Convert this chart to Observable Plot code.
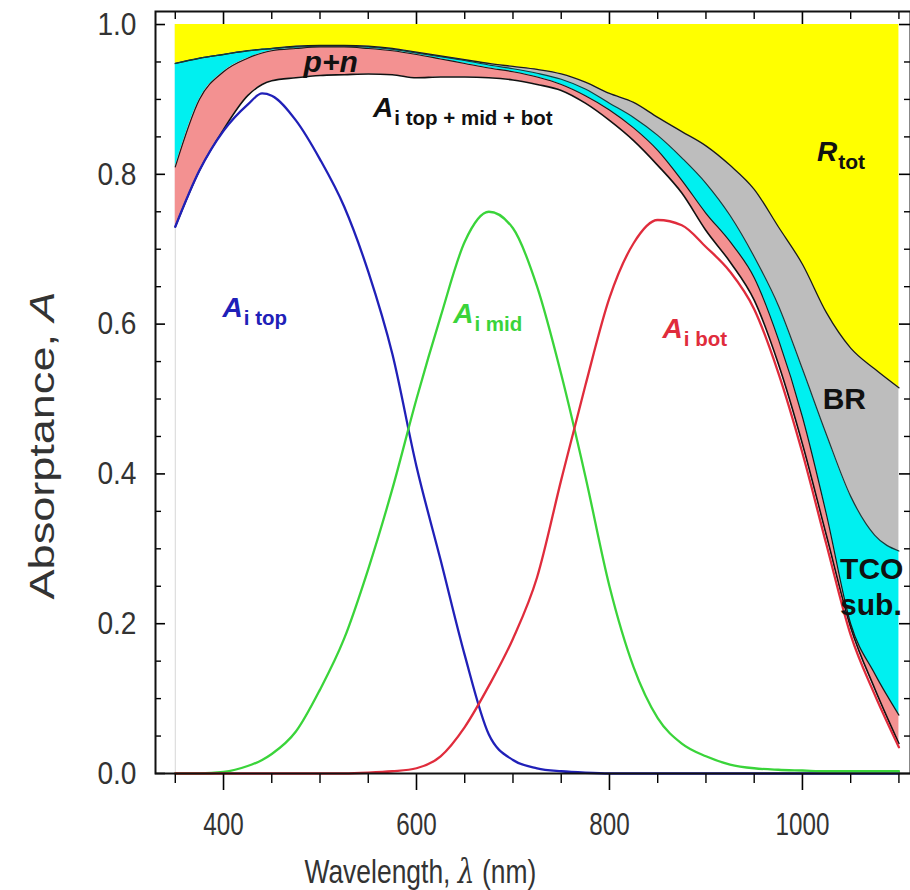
<!DOCTYPE html>
<html><head><meta charset="utf-8">
<script src="https://cdn.jsdelivr.net/npm/d3@7"></script>
<script src="https://cdn.jsdelivr.net/npm/@observablehq/plot@0.6"></script>
<style>
html,body{margin:0;padding:0;background:#fff;}
#chart svg{display:block;}
</style>
</head><body><div id="chart"></div>
<script>
// ---- data ----
const wavelength = [350,375,400,425,440,450,475,500,525,550,575,600,625,650,675,700,725,750,775,800,825,850,875,900,925,950,975,1000,1025,1050,1075,1100];
const aTop   = [0.73,0.805,0.858,0.893,0.908,0.905,0.872,0.82,0.757,0.67,0.56,0.41,0.285,0.158,0.052,0.018,0.007,0.003,0.001,0,0,0,0,0,0,0,0,0,0,0,0,0];
const aMid   = [0,0,0.002,0.01,0.018,0.026,0.056,0.112,0.18,0.273,0.38,0.5,0.61,0.71,0.75,0.728,0.65,0.533,0.397,0.25,0.142,0.074,0.04,0.023,0.012,0.007,0.005,0.004,0.003,0.003,0.003,0.003];
const aBot   = [0,0,0,0,0,0,0,0,0,0.001,0.003,0.007,0.023,0.062,0.117,0.18,0.262,0.392,0.518,0.635,0.708,0.739,0.732,0.703,0.67,0.62,0.535,0.428,0.305,0.185,0.105,0.035];
const aTotal = [0.73,0.805,0.86,0.905,0.92,0.925,0.929,0.932,0.933,0.934,0.933,0.929,0.93,0.93,0.929,0.926,0.92,0.912,0.895,0.872,0.845,0.812,0.775,0.725,0.683,0.632,0.547,0.44,0.317,0.195,0.113,0.04];
const pnTop  = [0.81,0.9,0.937,0.955,0.962,0.965,0.968,0.97,0.97,0.968,0.965,0.96,0.954,0.948,0.942,0.937,0.93,0.92,0.905,0.886,0.862,0.832,0.792,0.748,0.71,0.662,0.58,0.476,0.345,0.2,0.133,0.078];
const tcoTop = [0.948,0.955,0.96,0.965,0.967,0.968,0.97,0.971,0.971,0.97,0.967,0.962,0.957,0.952,0.946,0.941,0.935,0.927,0.914,0.895,0.876,0.852,0.822,0.788,0.745,0.69,0.625,0.54,0.452,0.37,0.318,0.297];
const brTop  = [0.948,0.955,0.96,0.965,0.967,0.968,0.971,0.972,0.972,0.971,0.968,0.963,0.958,0.953,0.948,0.944,0.94,0.934,0.923,0.908,0.896,0.876,0.857,0.838,0.812,0.78,0.73,0.68,0.615,0.568,0.54,0.515];

const xMajorTicks = [400,600,800,1000];
const xMinorTicks = [350,450,500,550,650,700,750,850,900,950,1050,1100];
const yMajorTicks = [0,0.2,0.4,0.6,0.8,1.0];
const yMinorTicks = [0.05,0.1,0.15,0.25,0.3,0.35,0.45,0.5,0.55,0.65,0.7,0.75,0.85,0.9,0.95];

// annotation labels: main text, subscript, anchor (wavelength, absorptance)
const labelMain = ["A","A","A","A","R","p+n","BR","TCO","sub."];
const labelSub  = ["i top","i mid","i bot","i top + mid + bot","tot","","","",""];
const labelAtW  = [399,638,855,555,1015,483,1021,1039,1039];
const labelAtA  = [0.609,0.602,0.581,0.876,0.818,0.936,0.487,0.26,0.211];
const labelColor= ["#2020b8","#3ad43a","#e02c3c","#111","#111","#111","#111","#111","#111"];

const xLabel = "Wavelength, λ (nm)";
const yLabel = "Absorptance, A";

// ---- build tables ----
const rows = wavelength.map((w,i)=>({w, top:aTop[i], mid:aMid[i], bot:aBot[i], total:aTotal[i], pn:pnTop[i], tco:tcoTop[i], br:brTop[i], one:1}));
const labels = labelMain.map((m,i)=>({main:m, sub:labelSub[i], w:labelAtW[i], a:labelAtA[i], color:labelColor[i]}));

const curve = "monotone-x";
const font = "'Liberation Sans', Arial, sans-serif";

const plot = Plot.plot({
  width: 910, height: 890,
  marginLeft: 155, marginRight: 0, marginTop: 11, marginBottom: 117,
  x: {domain: [329.5, 1112]},
  y: {domain: [0, 1.0174]},
  color: {type: "identity"},
  style: {fontFamily: font, background: "#fff", overflow: "visible"},
  marks: [
    Plot.ruleX([350], {y1: 0, y2: 1, stroke: "#d6d6d6", strokeWidth: 1}),
    Plot.areaY(rows, {x: "w", y1: "br", y2: "one", fill: "#ffff00", curve}),
    Plot.areaY(rows, {x: "w", y1: "tco", y2: "br", fill: "#bdbdbd", curve}),
    Plot.areaY(rows, {x: "w", y1: "pn", y2: "tco", fill: "#00f0f0", curve}),
    Plot.areaY(rows, {x: "w", y1: "total", y2: "pn", fill: "#f39191", curve}),
    Plot.lineY(rows, {x: "w", y: "br", stroke: "#1a1a1a", strokeWidth: 1.3, curve}),
    Plot.lineY(rows, {x: "w", y: "tco", stroke: "#1a3a3a", strokeWidth: 1.2, curve}),
    Plot.lineY(rows, {x: "w", y: "pn", stroke: "#1a1a1a", strokeWidth: 1.2, curve}),
    Plot.lineY(rows, {x: "w", y: "total", stroke: "#111", strokeWidth: 1.6, curve}),
    Plot.lineY(rows, {x: "w", y: "top", stroke: "#2020b8", strokeWidth: 2.3, curve}),
    Plot.lineY(rows, {x: "w", y: "mid", stroke: "#3ad43a", strokeWidth: 2.3, curve}),
    Plot.lineY(rows, {x: "w", y: "bot", stroke: "#e02c3c", strokeWidth: 2.3, curve}),
    // labels
    Plot.text(labels, {x: "w", y: "a", text: d => d.main + d.sub, fill: "color", textAnchor: "start", lineAnchor: "bottom", fontSize: 28, fontWeight: "bold"}),
    // axes: bottom
    Plot.axisX({anchor: "bottom", ticks: xMajorTicks, tickSize: 17, text: null, label: null, strokeWidth: 1.6}),
    Plot.axisX({anchor: "bottom", ticks: xMinorTicks, tickSize: 10, text: null, label: null, strokeWidth: 1.4}),
    Plot.axisX({anchor: "bottom", ticks: xMajorTicks, tickSize: 0, tickPadding: 39, tickFormat: d => String(d), label: null, fontSize: 31, fill: "#333"}),
    // axes: top (inward)
    Plot.axisX({anchor: "top", ticks: xMajorTicks, tickSize: -12, text: null, label: null, strokeWidth: 1.6}),
    Plot.axisX({anchor: "top", ticks: xMinorTicks, tickSize: -7, text: null, label: null, strokeWidth: 1.4}),
    // axes: left (inward)
    Plot.axisY({anchor: "left", ticks: yMajorTicks, tickSize: -10, text: null, label: null, strokeWidth: 1.6}),
    Plot.axisY({anchor: "left", ticks: yMinorTicks, tickSize: -6, text: null, label: null, strokeWidth: 1.4}),
    Plot.axisY({anchor: "left", ticks: yMajorTicks, tickSize: 0, tickPadding: 19, tickFormat: d3.format(".1f"), label: null, fontSize: 32, fill: "#333"}),
    // axes: right (inward)
    Plot.axisY({anchor: "right", ticks: yMajorTicks, tickSize: -12, text: null, label: null, strokeWidth: 1.6}),
    Plot.axisY({anchor: "right", ticks: yMinorTicks, tickSize: -7, text: null, label: null, strokeWidth: 1.4}),
    // axis titles
    Plot.text([xLabel], {x: 604, frameAnchor: "bottom", dy: 109, textAnchor: "middle", lineAnchor: "bottom", text: d => d, fontSize: 34, fill: "#333"}),
    Plot.text([yLabel], {y: 0.438, frameAnchor: "left", dx: -113, textAnchor: "middle", lineAnchor: "middle", rotate: -90, text: d => d, fontSize: 36, fill: "#333"}),
    Plot.frame({stroke: "#111", strokeWidth: 2})
  ]
});

document.getElementById("chart").append(plot);
const svg = d3.select(plot);

function fitTo(node, len) {
  node.setAttribute("textLength", len.toFixed(1));
  node.setAttribute("lengthAdjust", "spacingAndGlyphs");
}
// scale a whole text element along its own reading direction, keeping its anchor point fixed
function stretch(node, sx) {
  const tr = node.getAttribute("transform");
  if (tr) {
    node.setAttribute("transform", `${tr} scale(${sx},1)`);
  } else {
    const x = +node.getAttribute("x") || 0, y = +node.getAttribute("y") || 0;
    node.setAttribute("transform", `translate(${x},${y}) scale(${sx},1) translate(${-x},${-y})`);
  }
}
const xTickText = new Set(xMajorTicks.map(String));
const yTickText = new Set(yMajorTicks.map(d3.format(".1f")));
const labelByText = new Map(labels.map(d => [d.main + d.sub, d]));

svg.selectAll("text").each(function() {
  const s = this.textContent;
  const t = d3.select(this);
  if (labelByText.has(s)) {
    const d = labelByText.get(s);
    t.text(null);
    if (d.sub) {
      t.append("tspan").attr("font-style", "italic").attr("font-size", 28).text(d.main);
      t.append("tspan").attr("font-size", d.main === "R" ? 21 : 20.5).attr("dy", 8).attr("dx", 1).text(d.sub);
    } else if (d.main === "p+n") {
      t.append("tspan").attr("font-style", "italic").attr("font-size", 30).text(d.main);
    } else {
      t.append("tspan").attr("font-size", 30).text(d.main);
    }
  } else if (s === xLabel) {
    t.text(null);
    t.append("tspan").text("Wavelength, ");
    t.append("tspan").attr("font-style", "italic").attr("font-family", "'DejaVu Serif', serif").text("λ");
    t.append("tspan").text(" (nm)");
    stretch(this, 232 / this.getComputedTextLength());
  } else if (s === yLabel) {
    t.text(null);
    t.append("tspan").text("Absorptance, ");
    t.append("tspan").attr("font-style", "italic").text("A");
    stretch(this, 308 / this.getComputedTextLength());
  } else if (xTickText.has(s)) {
    fitTo(this, this.getComputedTextLength() * 0.78);
  } else if (yTickText.has(s)) {
    fitTo(this, this.getComputedTextLength() * 0.88);
  }
});
</script>
</body></html>
